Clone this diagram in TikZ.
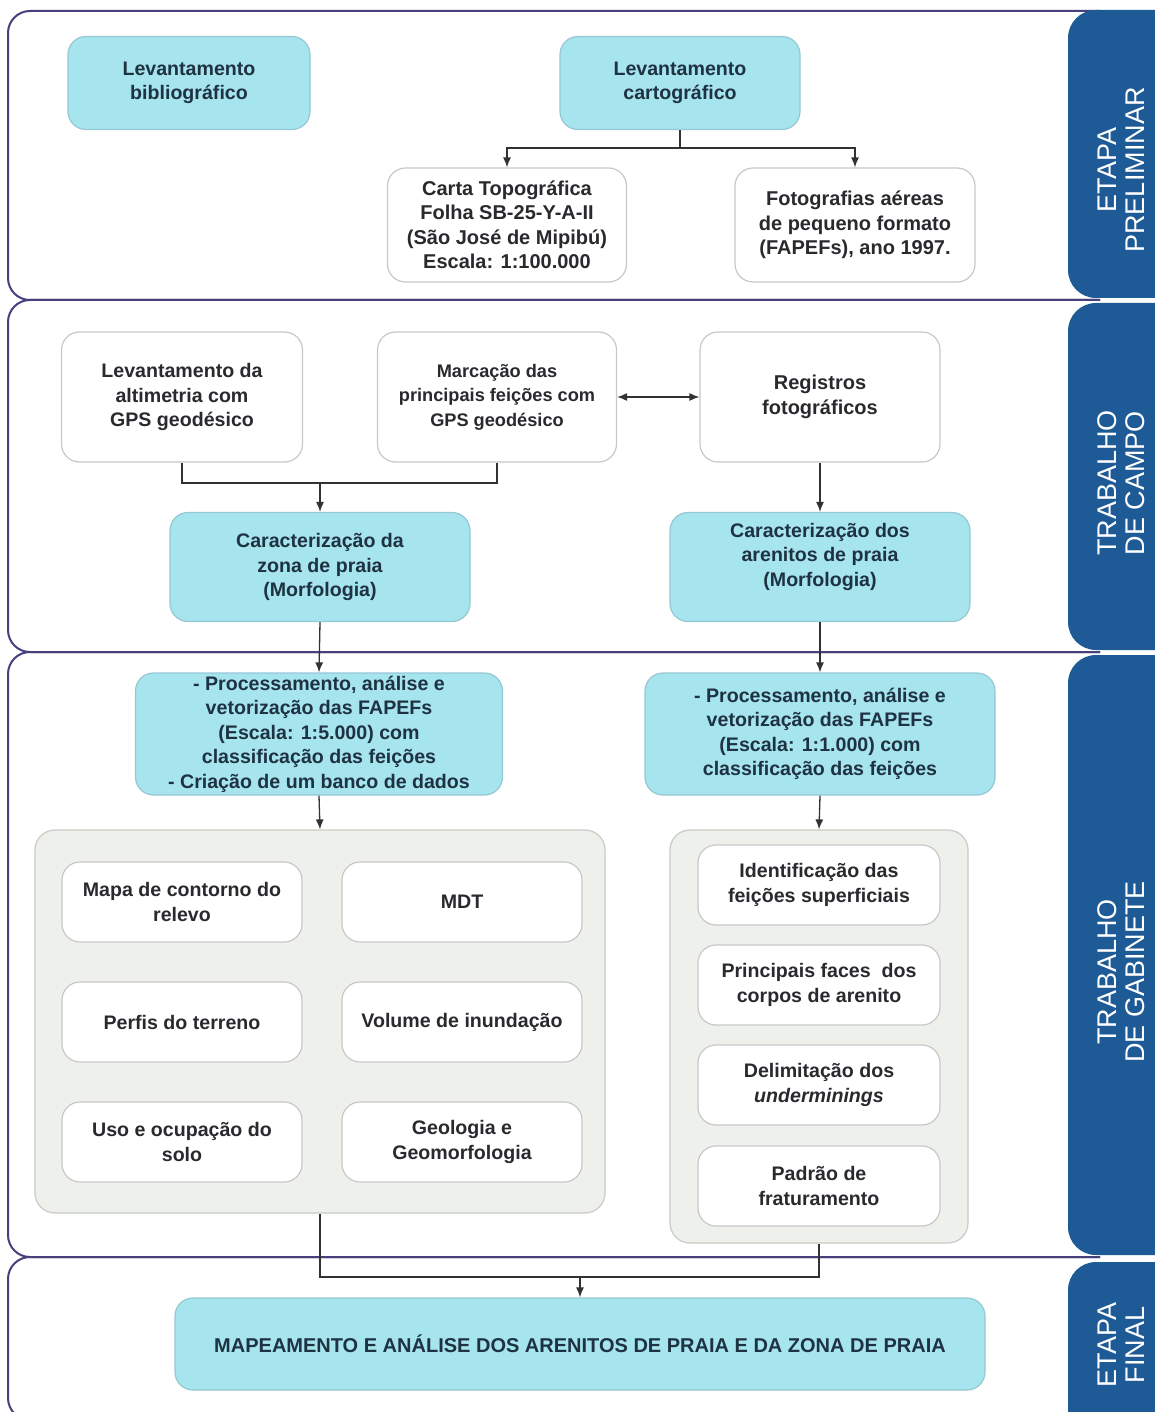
\documentclass[tikz,border=0pt]{standalone}
\usepackage{fontspec}
\setmainfont{Liberation Sans}
\newfontfamily\txt{Liberation Sans Bold}[ItalicFont=Liberation Sans Bold Italic]
\newfontfamily\bandfont{Liberation Sans}
\usetikzlibrary{arrows.meta}
\newcommand\setfs[2]{\fontsize{#1}{#2}\selectfont}
\definecolor{cyanf}{RGB}{166,228,238}
\definecolor{cyand}{RGB}{150,200,212}
\definecolor{grayd}{RGB}{200,200,200}
\definecolor{contf}{RGB}{238,240,236}
\definecolor{contd}{RGB}{200,203,198}
\definecolor{framec}{RGB}{70,65,125}
\definecolor{bandc}{RGB}{30,90,150}
\definecolor{txtc}{RGB}{40,42,45}
\definecolor{txtcy}{RGB}{30,50,65}
\definecolor{linec}{RGB}{50,50,50}
\tikzset{
  box/.style={rounded corners=18pt, line width=1.2pt, align=center, inner sep=0pt, font=\txt\setfs{19.6}{24.5}},
  cyanbox/.style={box, fill=cyanf, draw=cyand, text=txtcy},
  whitebox/.style={box, fill=white, draw=grayd, text=txtc},
  container/.style={rounded corners=20pt, fill=contf, draw=contd, line width=1.2pt, inner sep=0pt},
  fsmall/.style={font=\txt\setfs{18.2}{24.5}},
  fbig/.style={font=\txt\setfs{20}{24.5}},
  frame/.style={draw=framec, line width=2pt, rounded corners=22pt},
  band/.style={fill=bandc, rounded corners=28pt},
  bandtxt/.style={text=white, align=center, rotate=90, font=\bandfont\setfs{27}{28}},
  conn/.style={draw=linec, line width=1.3pt},
  arr/.style={conn, -{Latex[length=10pt,width=8pt]}},
  darr/.style={conn, {Latex[length=10pt,width=8pt]}-{Latex[length=10pt,width=8pt]}}
}
\begin{document}
\begin{tikzpicture}[x=1pt,y=-1pt]
\useasboundingbox (0,0) rectangle (1155,1412);
\clip (0,0) rectangle (1155,1412);
\fill[white] (0,0) rectangle (1155,1412);
% panels
\draw[frame] (1100,11) -- (8,11) -- (8,300) -- (1100,300);
\draw[frame] (1100,300) -- (8,300) -- (8,652) -- (1100,652);
\draw[frame] (1100,652) -- (8,652) -- (8,1257) -- (1100,1257);
\draw[frame] (1100,1257) -- (8,1257) -- (8,1420) -- (1100,1420);
% bands
\fill[band] (1068,10) rectangle (1230,298);
\fill[band] (1068,303) rectangle (1230,650);
\fill[band] (1068,655) rectangle (1230,1255);
\fill[band] (1068,1262) rectangle (1230,1450);
\node[bandtxt] (b1) at (1121,170) {ETAPA\\PRELIMINAR};
\node[bandtxt] (b2) at (1121,483) {TRABALHO\\DE CAMPO};
\node[bandtxt] (b3) at (1121,972) {TRABALHO\\DE GABINETE};
\node[bandtxt] (b4) at (1121,1345) {ETAPA\\FINAL};
% panel 1
\node[cyanbox, minimum width=242, minimum height=93] (bib) at (189,83) {Levantamento\\bibliográfico};
\node[cyanbox, minimum width=240, minimum height=93] (cart) at (680,83) {Levantamento\\cartográfico};
\node[whitebox, fbig, minimum width=239, minimum height=114] (carta) at (507,225) {Carta Topográfica\\Folha SB-25-Y-A-II\\(São José de Mipibú)\\Escala: 1:100.000};
\node[whitebox, fbig, minimum width=240, minimum height=114] (foto) at (855,225) {Fotografias aéreas\\de pequeno formato\\(FAPEFs), ano 1997.};
\coordinate (c1) at (680,148);
\draw[conn] (cart.south) -- (c1);
\draw[arr] (c1) -| (carta.north);
\draw[arr] (c1) -| (foto.north);
% panel 2
\node[whitebox, minimum width=241, minimum height=130] (alt) at (182,397) {Levantamento da\\altimetria com\\GPS geodésico};
\node[whitebox, fsmall, minimum width=239, minimum height=130] (marc) at (497,397) {Marcação das\\principais feições com\\GPS geodésico};
\node[whitebox, fbig, minimum width=240, minimum height=130] (reg) at (820,397) {Registros\\fotográficos};
\node[cyanbox, minimum width=300, minimum height=109] (carz) at (320,567) {Caracterização da\\zona de praia\\(Morfologia)};
\node[cyanbox, minimum width=300, minimum height=109] (cara) at (820,567) {Caracterização dos\\arenitos de praia\\(Morfologia)\\\mbox{}};
\draw[darr] (marc.east) -- (reg.west);
\coordinate (j1) at (320,483);
\draw[conn] (alt.south) -- (alt.south |- j1) -- (marc.south |- j1) -- (marc.south);
\draw[arr] (j1) -- (carz.north);
\draw[arr] (reg.south) -- (cara.north);
% panel 3
\node[cyanbox, minimum width=367, minimum height=122] (procL) at (319,734) {- Processamento, análise e\\vetorização das FAPEFs\\(Escala: 1:5.000) com\hspace*{1.2em}\\classificação das feições\\- Criação de um banco de dados};
\node[cyanbox, minimum width=350, minimum height=122] (procR) at (820,734) {- Processamento, análise e\\vetorização das FAPEFs\\(Escala: 1:1.000) com\hspace*{1.2em}\\classificação das feições};
\draw[arr] (carz.south) -- (procL.north);
\draw[arr] (cara.south) -- (procR.north);
\node[container, minimum width=570, minimum height=383] (contL) at (320,1021.5) {};
\node[container, minimum width=298, minimum height=413] (contR) at (819,1036.5) {};
\draw[arr] (procL.south) -- (contL.north);
\draw[arr] (procR.south) -- (contR.north);
\node[whitebox, minimum width=240, minimum height=80] (mapa) at (182,902) {Mapa de contorno do\\relevo};
\node[whitebox, minimum width=240, minimum height=80] (mdt) at (462,902) {MDT};
\node[whitebox, minimum width=240, minimum height=80] (perf) at (182,1022) {Perfis do terreno};
\node[whitebox, minimum width=240, minimum height=80] (vol) at (462,1022) {Volume de inundação};
\node[whitebox, minimum width=240, minimum height=80] (uso) at (182,1142) {Uso e ocupação do\\solo};
\node[whitebox, minimum width=240, minimum height=80] (geo) at (462,1142) {Geologia e\\Geomorfologia};
\node[whitebox, minimum width=242, minimum height=80] (ident) at (819,885) {Identificação das\\feições superficiais};
\node[whitebox, minimum width=242, minimum height=80] (princ) at (819,985) {Principais faces\ \ dos\\corpos de arenito};
\node[whitebox, minimum width=242, minimum height=80] (delim) at (819,1085) {Delimitação dos\\\textit{underminings}};
\node[whitebox, minimum width=242, minimum height=80] (padr) at (819,1186) {Padrão de\\fraturamento};
% panel 4
\node[cyanbox, font=\txt\setfs{20}{24.5}, minimum width=810, minimum height=92] (map) at (580,1344) {MAPEAMENTO E ANÁLISE DOS ARENITOS DE PRAIA E DA ZONA DE PRAIA};
\coordinate (j2) at (580,1277);
\draw[conn] (contL.south) -- (contL.south |- j2) -- (contR.south |- j2) -- (contR.south);
\draw[arr] (j2) -- (map.north);
\end{tikzpicture}
\end{document}
